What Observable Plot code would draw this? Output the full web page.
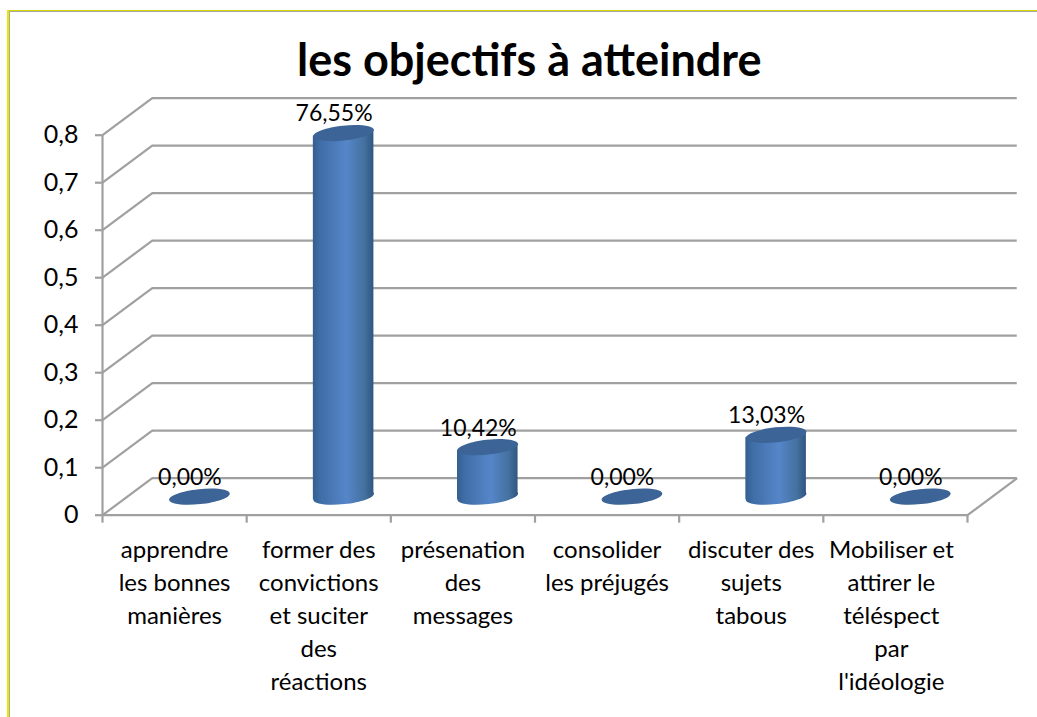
<!DOCTYPE html>
<html>
<head>
<meta charset="utf-8">
<script src="https://cdn.jsdelivr.net/npm/d3@7"></script>
<script src="https://cdn.jsdelivr.net/npm/@observablehq/plot@0.6"></script>
<style>
html,body{margin:0;padding:0;background:#fff;overflow:hidden;width:1037px;height:717px}
#outer{position:absolute;left:7px;top:10px;width:1040px;height:720px;border-left:2px solid #e9e900;border-top:1.5px solid #d6d600;box-sizing:border-box}
#inner{position:absolute;left:0;top:0;right:0;bottom:0;border-left:1.5px solid #a8a8a8;border-top:1.5px solid #a8a8a8;box-sizing:border-box}
#chart{position:absolute;left:0;top:0}
svg{display:block}
</style>
</head>
<body>
<div id="outer"><div id="inner"></div></div>
<div id="chart"></div>
<script>
const chartTitle = "les objectifs à atteindre";
const categories = [
  "apprendre\nles bonnes\nmanières",
  "former des\nconvictions\net suciter\ndes\nréactions",
  "présenation\ndes\nmessages",
  "consolider\nles préjugés",
  "discuter des\nsujets\ntabous",
  "Mobiliser et\nattirer le\ntéléspect\npar\nl'idéologie"
];
const values = [0, 0.7655, 0.1042, 0, 0.1303, 0];
const valueTicks = [0, 0.1, 0.2, 0.3, 0.4, 0.5, 0.6, 0.7, 0.8];

// 3-D projection of the floor, in scale units
const depthX = 0.345, depthY = 0.078;
const barHalf = 0.21, slant = 0.0064;

const rows = categories.map((name, i) => ({name, i, value: values[i]}));
const solid = rows.filter(d => d.value > 0);
const wall = solid.flatMap(d => [
  {z: d.i, x: d.i + 0.5 + depthX / 2 - barHalf, y1: depthY / 2 - slant, y2: d.value + depthY / 2 - slant},
  {z: d.i, x: d.i + 0.5 + depthX / 2 + barHalf, y1: depthY / 2 + slant, y2: d.value + depthY / 2 + slant}
]);

const fmtTick = d => d === 0 ? "0" : String(d).replace(".", ",");
const fmtPct = d => (d * 100).toFixed(2).replace(".", ",") + "%";

// tilted ellipse used for the cylinder caps
const cap = {
  draw(ctx, size) {
    const a = Math.sqrt(size / Math.PI), b = a * 0.245, t = -6.2 * Math.PI / 180;
    const c = Math.cos(t), s = Math.sin(t), k = 0.5523;
    const P = (x, y) => [x * c - y * s, x * s + y * c];
    ctx.moveTo(...P(a, 0));
    ctx.bezierCurveTo(...P(a, k * b), ...P(k * a, b), ...P(0, b));
    ctx.bezierCurveTo(...P(-k * a, b), ...P(-a, k * b), ...P(-a, 0));
    ctx.bezierCurveTo(...P(-a, -k * b), ...P(-k * a, -b), ...P(0, -b));
    ctx.bezierCurveTo(...P(k * a, -b), ...P(a, -k * b), ...P(a, 0));
    ctx.closePath();
  }
};

const grey = "#a0a0a0";
const gw = 2.2;
const defs = () => {
  const ns = "http://www.w3.org/2000/svg";
  const d = document.createElementNS(ns, "defs");
  d.innerHTML = `<linearGradient id="cyl" x1="0" x2="1" y1="0" y2="0">
    <stop offset="0" stop-color="#33608f"/>
    <stop offset="0.12" stop-color="#3f6da6"/>
    <stop offset="0.55" stop-color="#5586c9"/>
    <stop offset="0.85" stop-color="#44719f"/>
    <stop offset="1" stop-color="#2f5680"/>
  </linearGradient>`;
  return d;
};

const chart = Plot.plot({
  width: 1037,
  height: 717,
  marginLeft: 102,
  marginRight: 70,
  marginTop: 134.7,
  marginBottom: 202.3,
  style: {fontFamily: "Lato, sans-serif", fontSize: "20px", background: "transparent", color: "#000", overflow: "visible"},
  x: {domain: [0, 6]},
  y: {domain: [0, 0.8]},
  marks: [
    defs,
    // back wall gridlines
    Plot.ruleY(valueTicks, {x1: () => depthX, x2: () => 6 + depthX, y: d => d + depthY, stroke: grey, strokeWidth: gw}),
    // side wall diagonals
    Plot.link(valueTicks, {x1: () => 0, x2: () => depthX, y1: d => d, y2: d => d + depthY, stroke: grey, strokeWidth: gw}),
    // floor
    Plot.ruleY([0], {x1: () => 0, x2: () => 6, stroke: grey, strokeWidth: gw}),
    Plot.link([0], {x1: () => 6, x2: () => 6 + depthX, y1: () => 0, y2: () => depthY, stroke: grey, strokeWidth: gw}),
    Plot.ruleX([0], {y1: () => 0, y2: () => 0.8, stroke: grey, strokeWidth: gw}),
    Plot.axisY({ticks: valueTicks, tickFormat: fmtTick, tickSize: 7, tickPadding: 17, stroke: grey, strokeWidth: gw, fontSize: 25, fill: "#000", label: null}),
    Plot.axisX({ticks: d3.range(7), tickFormat: () => "", tickSize: 8, tickPadding: 0, stroke: grey, strokeWidth: gw, label: null}),
    // cylinders
    Plot.dot(solid, {x: d => d.i + 0.5 + depthX / 2, y: () => depthY / 2, r: 30.5, symbol: cap, fill: "url(#cyl)", stroke: "none"}),
    Plot.areaY(wall, {x: "x", y1: "y1", y2: "y2", z: "z", fill: "url(#cyl)", curve: "linear"}),
    Plot.dot(rows, {x: d => d.i + 0.5 + depthX / 2, y: d => d.value + depthY / 2, r: 30.5, symbol: cap, fill: "#3c6496", stroke: "none"}),
    // value labels
    Plot.text(rows, {x: d => d.i + 0.5 + depthX / 2, y: d => d.value + depthY / 2, text: d => fmtPct(d.value), dx: -9.5, dy: -19, fontSize: 23, fill: "#000"}),
    // category labels (the last one sits slightly left of its slot in the original)
    Plot.text(rows, {x: d => d.i + 0.5 - (d.i === 5 ? 0.028 : 0), y: () => 0, text: "name", dy: 19, lineAnchor: "top", lineHeight: 1.38, fontSize: 24, fill: "#000"}),
    // title
    Plot.text([chartTitle], {x: () => 2.96, y: () => 0.8, dy: -74, fontSize: 45, fontWeight: 700, fill: "#000"})
  ]
});
document.getElementById("chart").append(chart);
</script>
</body>
</html>
